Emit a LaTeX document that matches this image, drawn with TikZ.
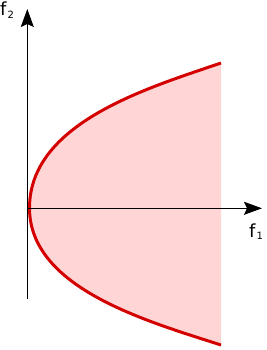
\documentclass[tikz,border=0pt]{standalone}
\usepackage{fontspec}
\setmainfont{DejaVu Sans}
\usetikzlibrary{arrows.meta}
\definecolor{frontred}{HTML}{D40000}
\definecolor{regionfill}{HTML}{FFD5D5}
\newcommand{\subsc}[1]{\kern1.2pt\raisebox{-2.8pt}{\fontsize{10}{10}\selectfont #1}}
\begin{document}
\begin{tikzpicture}[x=1pt,y=-1pt,
  axis/.style={line width=1.4pt, -{Stealth[length=18pt,width=13pt,inset=3pt]}},
  front/.style={draw=frontred, line width=3pt},
  region/.style={fill=regionfill},
  lbl/.style={inner sep=0pt, anchor=base west, font=\fontsize{18}{18}\selectfont}]
\useasboundingbox (0,0) rectangle (267,350);
\coordinate (V) at (29.5,208);
\coordinate (T) at (221,63);
\coordinate (B) at (221,345);
\coordinate (yb) at (27.3,299);
\coordinate (yt) at (27.3,9);
\coordinate (xl) at (27.3,208.3);
\coordinate (xr) at (262,208.3);
% feasible region
\fill[region] (T) .. controls (147.2,88.2) and (29.5,123) .. (V)
  .. controls (29.5,288.3) and (147.2,321.2) .. (B) -- cycle;
% front curve
\draw[front] (T) .. controls (147.2,88.2) and (29.5,123) .. (V)
  .. controls (29.5,288.3) and (147.2,321.2) .. (B);
% axes
\draw[axis] (yb) -- (yt);
\draw[axis] (xl) -- (xr);
% labels
\node[lbl] (f1) at (249,237) {f\subsc{1}};
\node[lbl] (f2) at (0,15.5) {f\subsc{2}};
\end{tikzpicture}
\end{document}
